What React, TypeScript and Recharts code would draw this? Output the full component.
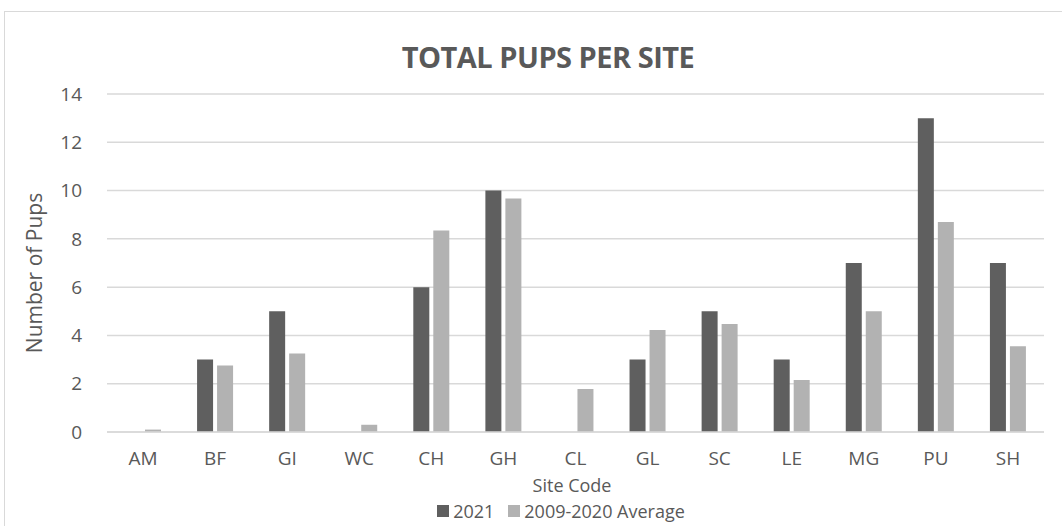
import { BarChart, Bar, XAxis, YAxis, CartesianGrid } from 'recharts';

const sites = ['AM', 'BF', 'GI', 'WC', 'CH', 'GH', 'CL', 'GL', 'SC', 'LE', 'MG', 'PU', 'SH'];
const pups2021 = [0, 3, 5, 0, 6, 10, 0, 3, 5, 3, 7, 13, 7];
const avg2009to2020 = [0.1, 2.75, 3.25, 0.3, 8.35, 9.67, 1.78, 4.22, 4.47, 2.15, 5, 8.7, 3.55];
const yTicks = [0, 2, 4, 6, 8, 10, 12, 14];

const data = sites.map((site, i) => ({
    site,
    y2021: pups2021[i],
    avg: avg2009to2020[i],
}));

const TEXT = '#595959';
const DARK = '#5F5F5F';
const LIGHT = '#B2B2B2';
const FONT = '"Open Sans", "Noto Sans", sans-serif';

export default function App() {
    return (
        <div style={{ position: 'absolute', left: 0, top: 0, width: 1062, height: 526, overflow: 'hidden', background: '#fff', fontFamily: FONT }}>
            <div style={{ position: 'absolute', left: 4, top: 11, width: 1100, height: 600, border: '1px solid #D9D9D9' }} />
            <div style={{ position: 'absolute', left: 0, top: 38, width: 1096, textAlign: 'center', color: TEXT, fontSize: 29, lineHeight: '38px', fontWeight: 700, letterSpacing: -0.5, fontFamily: '"Liberation Sans Narrow", "Open Sans", sans-serif' }}>
                TOTAL PUPS PER SITE
            </div>
            <BarChart
                width={1062}
                height={526}
                data={data}
                margin={{ top: 94, right: 18, left: 27, bottom: 64 }}
                barGap={4}
                barSize={16}
                style={{ position: 'absolute', left: 0, top: 0 }}
            >
                <CartesianGrid vertical={false} stroke="#D9D9D9" strokeWidth={1.5} />
                <XAxis
                    dataKey="site"
                    axisLine={{ stroke: '#D9D9D9', strokeWidth: 1.5 }}
                    tickLine={false}
                    tick={{ fill: TEXT, fontSize: 19, fontFamily: FONT }}
                    tickMargin={14}
                    height={30}
                />
                <YAxis
                    domain={[0, 14]}
                    ticks={yTicks}
                    axisLine={false}
                    tickLine={false}
                    tick={{ fill: TEXT, fontSize: 19, fontFamily: FONT }}
                    tickMargin={19}
                    width={80}
                />
                <Bar dataKey="y2021" name="2021" fill={DARK} isAnimationActive={false} />
                <Bar dataKey="avg" name="2009-2020 Average" fill={LIGHT} isAnimationActive={false} />
            </BarChart>
            <div style={{ position: 'absolute', left: 34, top: 273, width: 0, height: 0 }}>
                <div style={{ position: 'absolute', transform: 'translate(-50%, -50%) rotate(-90deg)', whiteSpace: 'nowrap', color: TEXT, fontSize: 21 }}>
                    Number of Pups
                </div>
            </div>
            <div style={{ position: 'absolute', left: 472, top: 475, width: 200, textAlign: 'center', color: TEXT, fontSize: 18, lineHeight: '20px' }}>
                Site Code
            </div>
            <div style={{ position: 'absolute', left: 0, top: 501, width: 1122, height: 20, display: 'flex', justifyContent: 'center', alignItems: 'center', color: TEXT, fontSize: 18, lineHeight: '20px' }}>
                <span style={{ width: 12, height: 12, background: DARK, marginRight: 4, display: 'inline-block' }} />
                <span style={{ marginRight: 14 }}>2021</span>
                <span style={{ width: 12, height: 12, background: LIGHT, marginRight: 4, display: 'inline-block' }} />
                <span>2009-2020 Average</span>
            </div>
        </div>
    );
}
